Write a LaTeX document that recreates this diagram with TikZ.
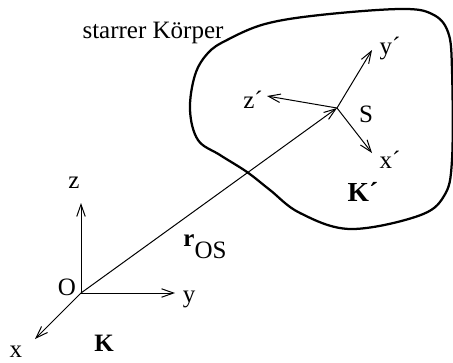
\documentclass[tikz,border=0pt]{standalone}
\usepackage{fontspec}
\setmainfont{Liberation Serif}
\usetikzlibrary{arrows.meta}
\tikzset{
  axis/.style={line width=0.4pt,-{Straight Barb[length=4.8pt,width=3.4pt]}},
  body/.style={line width=0.9pt},
  lbl/.style={font=\fontsize{10}{12}\selectfont,inner sep=0pt}
}

\begin{document}
\begin{tikzpicture}[x=0.4pt,y=-0.4pt]
\useasboundingbox (0,0) rectangle (453,362);
% rigid body outline
\draw[body] plot[smooth cycle,tension=0.6] coordinates {(227,40) (265,24) (320,15) (400,9) (432,14) (448,32) (452,70) (452,160) (444,196) (418,216) (350,229) (300,213) (270,190) (247,172) (220,155) (198,140) (190,110) (195,75) (208,53)};
\node[lbl] (body) at (153,33) {starrer Körper};
% frame K
\coordinate (O) at (81,293);
\coordinate (zK) at (81,203);
\coordinate (yK) at (175,293);
\coordinate (xK) at (35,339);
\draw[axis] (O) -- (zK);
\draw[axis] (O) -- (yK);
\draw[axis] (O) -- (xK);
\node[lbl] (Olbl) at (67,287) {O};
\node[lbl] (zlbl) at (74,183) {z};
\node[lbl] (ylbl) at (189,299) {y};
\node[lbl] (xlbl) at (16,352) {x};
\node[lbl] (Klbl) at (104,343) {\textbf{K}};
% frame K'
\coordinate (S) at (337,108);
\coordinate (yS) at (372,50);
\coordinate (zS) at (267,96);
\coordinate (xS) at (372,153);
\draw[axis] (O) -- (S);
\draw[axis] (S) -- (yS);
\draw[axis] (S) -- (zS);
\draw[axis] (S) -- (xS);
\node[lbl] (rlbl) at (205,247) {\textbf{r}\raisebox{-4.8pt}{OS}};
\node[lbl] (Slbl) at (366,114) {S};
\node[lbl] (yslbl) at (390,48) {y´};
\node[lbl] (zslbl) at (253,100) {z´};
\node[lbl] (xslbl) at (390,160) {x´};
\node[lbl,font=\fontsize{11}{13}\selectfont] (Kslbl) at (363,192) {\textbf{K´}};
\end{tikzpicture}
\end{document}
